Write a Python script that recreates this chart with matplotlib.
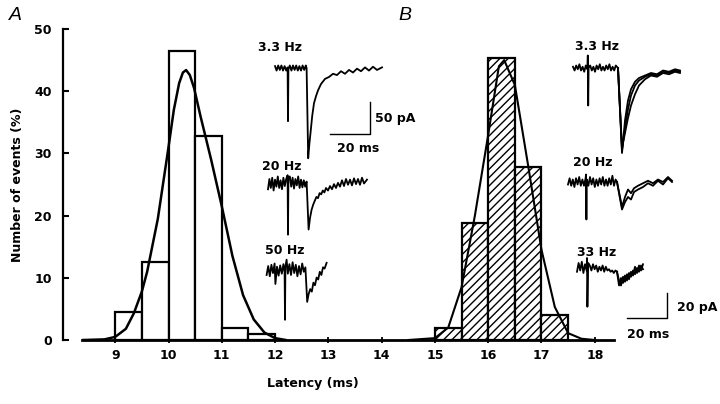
import matplotlib
matplotlib.use("Agg")
import matplotlib.pyplot as plt

# Histogram data (latency in ms, % of events)
bins_a = [9.0, 9.5, 10.0, 10.5, 11.0, 11.5]
counts_a = [4.5, 12.5, 46.5, 32.8, 2.0, 1.0]
bins_b = [15.0, 15.5, 16.0, 16.5, 17.0]
counts_b = [1.9, 18.8, 45.3, 27.8, 4.0]

# Fitted curves
fit_a_x = [8.4, 8.8, 9.0, 9.2, 9.35, 9.5, 9.6, 9.8, 10.0, 10.1, 10.2, 10.27, 10.33, 10.4, 10.48, 10.6, 10.8,
           11.0, 11.2, 11.4, 11.6, 11.8, 12.0, 12.2]
fit_a_y = [0.0, 0.1, 0.5, 1.8, 4.3, 7.8, 11.0, 19.5, 31.0, 37.0, 41.3, 43.0, 43.4, 42.6, 40.5, 36.0, 29.0,
           21.5, 13.5, 7.2, 3.3, 1.2, 0.3, 0.0]
fit_b_x = [14.5, 15.0, 15.25, 15.5, 15.75, 16.0, 16.2, 16.3, 16.5, 16.75, 17.0, 17.25, 17.5, 17.75, 18.0]
fit_b_y = [0.0, 0.3, 2.0, 8.5, 20.0, 33.0, 44.0, 45.0, 41.0, 28.0, 14.5, 5.3, 1.1, 0.2, 0.0]
xticks = [9, 10, 11, 12, 13, 14, 15, 16, 17, 18]
yticks = [0, 10, 20, 30, 40, 50]

# Panel A current traces (ms, pA relative to baseline)
a33_t = [0, 0.8, 1.6, 2.4, 3.2, 4.0, 4.8, 5.6, 6.3, 6.5, 6.7, 7.4, 8.2, 9.0, 9.8, 10.6, 11.4, 12.2, 13.0, 13.8,
         14.6, 15.4, 15.8, 16.6, 17.2, 17.8, 18.6, 19.5, 20.5, 21.5, 23.0, 25.0, 27.0, 29.0, 31.0, 33.0, 35.0,
         37.0, 39.0, 41.0, 43.0, 45.0, 47.0, 49.0, 51.0, 53.5]
a33_i = [3, -4, 4, -3, 4, -4, 3, -4, 1, -83, -2, 4, -4, 4, -3, 4, -4, 3, -4, 4,
         -3, 4, 0, -141, -118, -100, -75, -55, -44, -35, -25, -17, -14, -9, -11, -5, -9, -3,
         -7, -1, -5, 1, -4, 2, -3, 1]
a20_t = [0, 0.7, 1.4, 2.1, 2.8, 3.5, 4.2, 4.9, 5.6, 6.3, 7.0, 7.7, 8.4, 9.1, 9.8, 10.0, 10.2, 10.9, 11.6, 12.3,
         13.0, 13.7, 14.4, 15.1, 15.8, 16.5, 17.2, 17.9, 18.6, 19.3, 20.3, 21.0, 21.8, 22.6, 23.4, 24.2, 25.0,
         25.8, 26.6, 27.4, 28.2, 29.0, 30.0, 31.0, 32.0, 33.0, 34.0, 35.0, 36.0, 37.0, 38.0, 39.0, 40.0, 41.0,
         42.0, 43.0, 44.0, 45.0, 46.0, 47.0, 48.0, 49.5]
a20_i = [-10, 6, -8, 8, -12, 5, -6, 10, -8, 4, -10, 8, -5, 6, 12, -81, 8, 10, -6, 8,
         -9, 6, -4, 10, -8, 5, -7, 4, -6, 2, -73, -55, -42, -34, -28, -22, -24,
         -16, -18, -12, -15, -8, -12, -5, -10, -2, -8, 0, -6, 4, -5, 6, -3, 5,
         -4, 7, -2, 6, -3, 8, -1, 5]
a50_t = [0, 0.8, 1.6, 2.4, 3.2, 4.0, 4.4, 5.2, 6.0, 6.8, 7.6, 8.4, 9.0, 9.2, 9.4, 10.0, 10.6, 11.4, 12.2, 13.0,
         13.8, 14.6, 15.4, 16.2, 17.0, 17.8, 18.6, 19.4, 20.3, 21.0, 21.8, 22.6, 23.4, 24.2, 25.0, 25.8, 26.6,
         27.4, 28.2, 29.0, 30.0]
a50_i = [-8, 6, -10, 8, -5, 10, -22, 5, -9, 7, -6, 9, -4, -78, 5, 16, -6, 9, -8, 12,
         -5, 8, -10, 6, -7, 10, -3, 4, -50, -38, -30, -34, -20, -24, -12, -15, -3,
         -8, 4, 2, 11]

# Panel B current traces
b33_t = [0, 0.8, 1.6, 2.4, 3.2, 4.0, 4.8, 5.6, 6.4, 7.2, 7.4, 7.6, 7.8, 8.6, 9.4, 10.2, 11.0, 11.8, 12.6, 13.4,
         14.2, 15.0, 15.8, 16.6, 17.4, 18.2, 19.0, 19.8, 20.6, 21.4, 22.5]
b33_i = [1, -2, 2, -1, 3, -2, 1, -3, 2, -1, 10, -30, 0, 2, -2, 1, -3, 2, -1, 3,
         -2, 1, -2, 2, -1, 3, -2, 1, -2, 2, 0]
b33_dt = [22.5, 24.5, 26, 27.5, 29, 31, 33, 36, 39, 42, 45, 48, 51, 53.5]
b33_fast = [0, -68, -42, -26, -17, -11, -8, -6, -4, -5, -2, -3, -1, -2]
b33_mid = [0, -66, -48, -33, -22, -14, -10, -7, -5, -6, -3, -4, -2, -3]
b33_slow = [0, -64, -52, -40, -30, -21, -14, -9, -6, -7, -4, -5, -3, -4]

b20_t = [0, 0.8, 1.6, 2.4, 3.2, 4.0, 4.8, 5.6, 6.4, 7.2, 8.0, 8.8, 9.0, 9.2, 9.4, 10.2, 11.0, 11.8, 12.6, 13.4,
         14.2, 15.0, 15.8, 16.6, 17.4, 18.2, 19.0, 19.8, 20.6, 21.4, 22.2, 23.0, 23.8, 24.5]
b20_i = [-2, 3, -3, 2, -4, 3, -2, 4, -3, 2, -3, 3, 6, -30, 2, -3, 4, -2, 3, -4,
         2, -3, 3, -2, 4, -3, 2, -3, 3, -2, 5, -3, 2, 0]
b20_dt = [24.5, 27, 28.5, 30, 31.5, 33, 35, 37.5, 40, 42.5, 45, 47.5, 50, 52]
b20_a = [0, -22, -16, -12, -14, -8, -6, -4, -1, -3, 1, -2, 3, 0]
b20_b = [0, -20, -12, -6, -9, -5, -3, -1, 1, -1, 2, 0, 4, 1]

b50_t = [0, 0.8, 1.6, 2.4, 3.2, 4.0, 4.8, 5.0, 5.2, 5.6, 6.4, 7.2, 8.0, 8.8, 9.6, 10.4, 11.2, 12.0, 12.8, 13.6,
         14.4, 15.2, 16.0, 16.8, 17.6, 18.4, 19.2, 20.0]
b50_i = [-3, 4, -2, 5, -4, 3, -2, 8, -31, 4, 2, -2, 3, -1, 2, -3, 1, -2, 2, -3,
         1, -2, -1, -3, -2, -4, -2, -3]
b50_dt = [20, 21, 22, 23, 24, 25, 26, 27, 28, 29, 30, 31, 32, 33]
b50_a = [-3, -14, -8, -12, -6, -10, -4, -7, -2, -5, 0, -3, 2, -1]
b50_b = [-3, -10, -14, -7, -11, -5, -9, -3, -6, 1, -4, 2, -2, 3]

W, H = 720, 404
FONT = "DejaVu Sans"


def px_axes(fig, left, top, right, bottom):
    """add axes positioned in figure pixels (top-left origin)"""
    return fig.add_axes([left / W, 1 - bottom / H, (right - left) / W, (bottom - top) / H])


fig = plt.figure(figsize=(7.2, 4.04), dpi=100)
plt.rcParams['hatch.linewidth'] = 1.0

# ---- main histogram axes ----
ax = px_axes(fig, 63, 29, 720, 340)
ax.bar(bins_a, counts_a, width=0.5, align='edge', facecolor='white', edgecolor='black', linewidth=1.6, zorder=2)
ax.bar(bins_b, counts_b, width=0.5, align='edge', facecolor='white', edgecolor='black', linewidth=1.6,
       hatch='////', zorder=2)
ax.plot(fit_a_x, fit_a_y, color='black', linewidth=1.8, zorder=3)
ax.plot(fit_b_x, fit_b_y, color='black', linewidth=1.5, zorder=3)

ax.set_xlim(8.02, 20.35)
ax.set_ylim(0, 50)
ax.set_xticks(xticks)
ax.set_yticks(yticks)
for side in ['top', 'right']:
    ax.spines[side].set_visible(False)
ax.spines['bottom'].set_bounds(8.37, 18.37)
ax.spines['bottom'].set_linewidth(2.0)
ax.spines['left'].set_linewidth(1.6)
ax.spines['bottom'].set_zorder(4)
ax.tick_params(axis='y', direction='in', length=4, width=1.5, pad=8, labelsize=9)
ax.tick_params(axis='x', direction='inout', length=5, width=1.3, pad=4, labelsize=9)
for lab in ax.get_xticklabels() + ax.get_yticklabels():
    lab.set_fontweight('bold')
    lab.set_family(FONT)
ax.patch.set_alpha(0)

fig.text(18 / W, 1 - 185 / H, 'Number of events (%)', rotation=90, ha='center', va='center',
         fontsize=9, fontweight='bold', family=FONT)
fig.text(313 / W, 1 - 383 / H, 'Latency (ms)', ha='center', va='center',
         fontsize=9, fontweight='bold', family=FONT)
fig.text(15 / W, 1 - 15 / H, 'A', ha='center', va='center', fontsize=14, style='italic', family='Liberation Sans')
fig.text(405 / W, 1 - 15 / H, 'B', ha='center', va='center', fontsize=14, style='italic', family='Liberation Sans')


def shift(vals, d):
    return [v + d for v in vals]


# ---- panel A traces: 2 px/ms, 0.64 px/pA ----
ia = px_axes(fig, 255, 35, 395, 335)
ia.set_xlim(0, 70)
ia.set_ylim(-300 / 0.64, 0)
ia.axis('off')
tr = dict(color='black', linewidth=1.3)
ia.plot(shift(a33_t, 10), shift(a33_i, -51.6), **tr)
ia.plot(shift(a20_t, 6.5), shift(a20_i, -231), **tr)
ia.plot(shift(a50_t, 5.8), shift(a50_i, -367), **tr)
ia.plot([37.5, 57.5, 57.5], [-154.7, -154.7, -104.7], color='black', linewidth=1.0)
lbl = dict(fontsize=9, fontweight='bold', family=FONT, va='center', ha='left')
ia.text(1.5, -18.8, '3.3 Hz', **lbl)
ia.text(3.5, -206, '20 Hz', **lbl)
ia.text(5, -336, '50 Hz', **lbl)
ia.text(60, -130, '50 pA', **lbl)
ia.text(41, -176.6, '20 ms', **lbl)

# ---- panel B traces: 2 px/ms, 1.25 px/pA ----
ib = px_axes(fig, 560, 35, 700, 345)
ib.set_xlim(0, 70)
ib.set_ylim(-310 / 1.25, 0)
ib.axis('off')
ib.plot(shift(b33_t, 6.5), shift(b33_i, -26.4), **tr)
for dec in [b33_fast, b33_mid, b33_slow]:
    ib.plot(shift(b33_dt, 6.5), shift(dec, -26.4), **tr)
ib.plot(shift(b20_t, 4), shift(b20_i, -117.6), **tr)
for dec in [b20_a, b20_b]:
    ib.plot(shift(b20_dt, 4), shift(dec, -117.6), **tr)
ib.plot(shift(b50_t, 8.5), shift(b50_i, -186.4), **tr)
for dec in [b50_a, b50_b]:
    ib.plot(shift(b50_dt, 8.5), shift(dec, -186.4), **tr)
ib.plot([33.5, 53.5, 53.5], [-226.4, -226.4, -206.4], color='black', linewidth=1.0)
ib.text(7.5, -9.6, '3.3 Hz', **lbl)
ib.text(6.5, -102.4, '20 Hz', **lbl)
ib.text(8.5, -174.4, '33 Hz', **lbl)
ib.text(58.5, -218.4, '20 pA', **lbl)
ib.text(33.5, -239.2, '20 ms', **lbl)

fig.savefig('out.png', dpi=100)
